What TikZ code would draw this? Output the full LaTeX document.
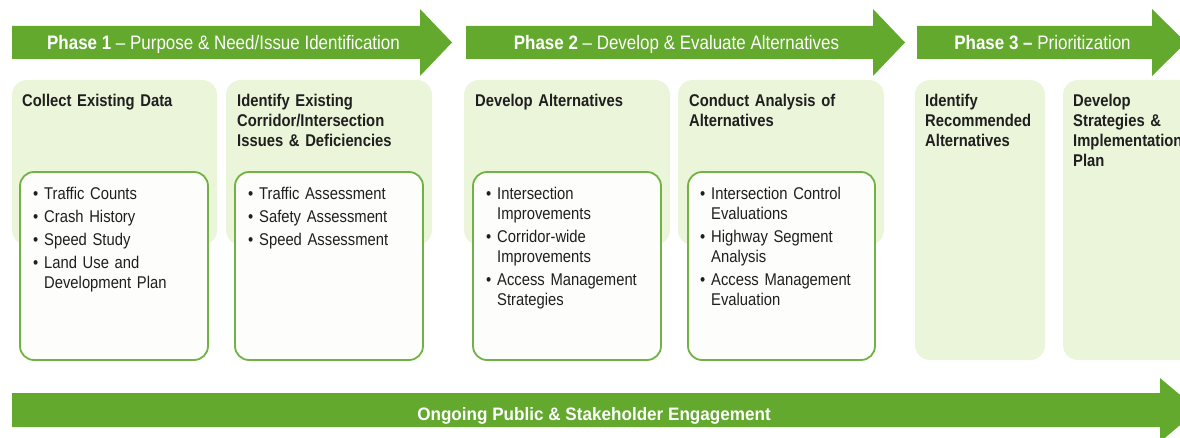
\documentclass[tikz,border=0pt]{standalone}
\usepackage{fontspec}
\setmainfont{Liberation Sans}[FakeStretch=0.87]
\newfontfamily\widefont{Liberation Sans}[FakeStretch=0.95]
\usepackage{tikz}
\usetikzlibrary{positioning}
\usepackage{xcolor}
\definecolor{phasegreen}{RGB}{98,169,45}
\definecolor{panelgreen}{RGB}{235,245,218}
\definecolor{boxline}{RGB}{114,178,68}
\definecolor{boxfill}{RGB}{253,253,251}
\tikzset{
  phasearrow/.style={fill=phasegreen},
  phasetitle/.style={anchor=base,inner sep=0pt,text=white,font=\fontsize{19.5}{22}\selectfont},
  panel/.style={fill=panelgreen,rounded corners=15pt},
  listbox/.style={draw=boxline,line width=1.8pt,fill=boxfill,rounded corners=14pt},
  heading/.style={anchor=base west,inner sep=0pt,text width=190pt,text=black!88,
    font=\fontsize{17}{20}\selectfont\bfseries},
  items/.style={anchor=base west,inner sep=0pt,text width=190pt,text=black!88,
    font=\fontsize{17}{20}\selectfont}
}
% bullet and hanging indent of a list line
\newcommand{\bul}{\makebox[11pt][l]{\textbullet}}
\newcommand{\cont}{\hspace*{11pt}}

\begin{document}
\begin{tikzpicture}[x=1pt,y=-1pt]
  \useasboundingbox (0,0) rectangle (1180,438);

  % phase arrows
  \foreach \xa/\xb/\xc in {12/420/452, 466/873/905, 917/1152/1186}
    \fill[phasearrow] (\xa,26) -- (\xb,26) -- (\xb,9) -- (\xc,42.5)
      -- (\xb,76) -- (\xb,59) -- (\xa,59) -- cycle;
  \node[phasetitle] (title1) at (223.5,50)
    {\textbf{Phase 1} – Purpose \& Need/Issue Identification};
  \node[phasetitle] (title2) at (676.5,50)
    {\textbf{Phase 2} – Develop \& Evaluate Alternatives};
  \node[phasetitle] (title3) at (1042.5,50)
    {\textbf{Phase 3 –} Prioritization};

  % green panels
  \fill[panel] (12,80) rectangle (217,245);
  \fill[panel] (226,80) rectangle (432,245);
  \fill[panel] (464,80) rectangle (670,245);
  \fill[panel] (678,80) rectangle (884,245);
  \fill[panel] (915,80) rectangle (1045,360);
  \fill[panel] (1063,80) rectangle (1200,360);

  % white list boxes
  \filldraw[listbox] (20,172) rectangle (208,360);
  \filldraw[listbox] (235,172) rectangle (423,360);
  \filldraw[listbox] (473,172) rectangle (661,360);
  \filldraw[listbox] (688,172) rectangle (875,360);

  % step headings
  \node[heading] (collect) at (22,107) {Collect Existing Data};
  \node[heading] (identify) at (237,107)
    {Identify Existing\\Corridor/Intersection\\Issues \& Deficiencies};
  \node[heading] (develop) at (475,107) {Develop Alternatives};
  \node[heading] (conduct) at (689,107) {Conduct Analysis of\\Alternatives};
  \node[heading] (recommend) at (925,107) {Identify\\Recommended\\Alternatives};
  \node[heading] (strategies) at (1073,107)
    {Develop\\Strategies \&\\Implementation\\Plan};

  % bullet lists
  \node[items] (datalist) at (33,200)
    {\bul Traffic Counts\\[3pt]\bul Crash History\\[3pt]\bul Speed Study\\[3pt]
     \bul Land Use and\\\cont Development Plan};
  \node[items] (issuelist) at (248,200)
    {\bul Traffic Assessment\\[3pt]\bul Safety Assessment\\[3pt]\bul Speed Assessment};
  \node[items] (altlist) at (486,200)
    {\bul Intersection\\\cont Improvements\\[3pt]\bul Corridor-wide\\\cont Improvements\\[3pt]
     \bul Access Management\\\cont Strategies};
  \node[items] (analysislist) at (700,200)
    {\bul Intersection Control\\\cont Evaluations\\[3pt]\bul Highway Segment\\\cont Analysis\\[3pt]
     \bul Access Management\\\cont Evaluation};

  % engagement arrow
  \fill[phasearrow] (12,393) -- (1160,393) -- (1160,378) -- (1198,410)
    -- (1160,442) -- (1160,427) -- (12,427) -- cycle;
  \node[anchor=base,inner sep=0pt,text=white,font=\widefont\fontsize{18}{20}\selectfont\bfseries]
    (engage) at (594,420) {Ongoing Public \& Stakeholder Engagement};
\end{tikzpicture}
\end{document}
